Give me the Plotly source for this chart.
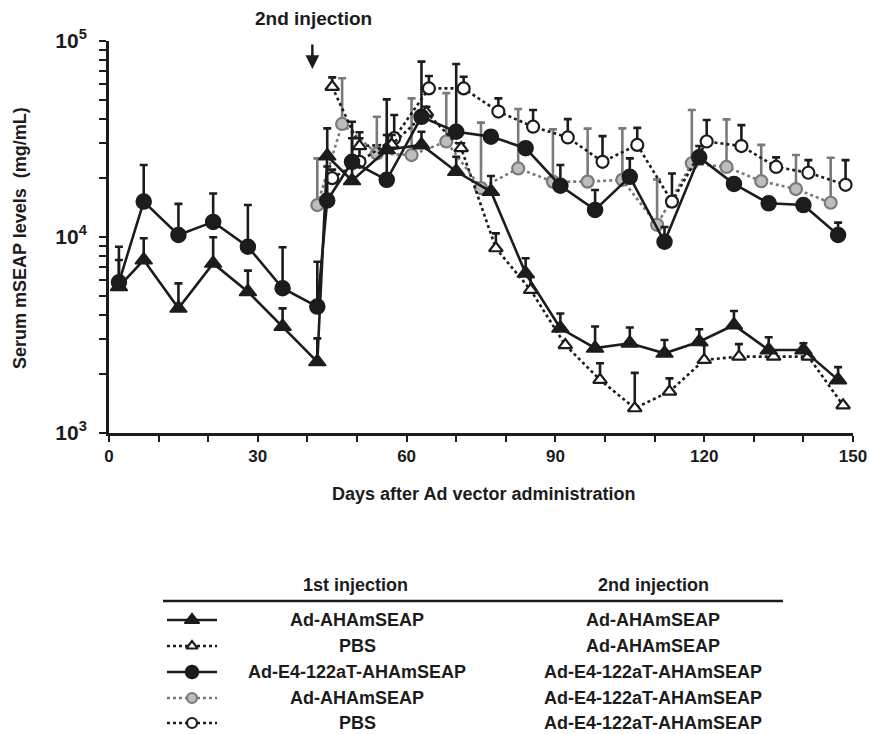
import plotly.graph_objects as go

# ---------------- data ----------------
A_days = [2, 7, 14, 21, 28, 35, 42, 44, 49, 56, 63, 70, 77, 84, 91, 98, 105, 112, 119, 126, 133, 140, 147]
A_vals = [5560, 7600, 4310, 7310, 5240, 3480, 2300, 25800, 19300, 27800, 29400, 21500, 17000, 6500, 3410, 2700,
          2860, 2540, 2910, 3540, 2640, 2640, 1860]
A_upper = [7600, 9820, 5780, 9930, 6710, 4310, 3030, 35700, 31800, 33000, 34300, 25600, 20400, 7760, 4060, 3480,
           3440, 2970, 3370, 4180, 3070, 2860, 2160]

B_days = [45, 50.5, 57, 64, 71, 78, 85, 92, 99, 106, 113, 120, 127, 134, 141, 148]
B_vals = [58200, 29000, 29500, 43000, 28300, 8730, 5350, 2800, 1860, 1333, 1622, 2350, 2445, 2445, 2445, 1380]
B_upper = [65000, 31800, 33000, 46000, 30000, 10400, 6210, 2800, 2260, 2020, 1893, 2800, 2830, 2445, 2445, 1380]

C_days = [2, 7, 14, 21, 28, 35, 42, 44, 49, 56, 63, 70, 77, 84, 91, 98, 105, 112, 119, 126, 133, 140, 147]
C_vals = [5850, 15100, 10200, 11900, 8890, 5460, 4400, 15300, 24100, 19500, 40900, 34300, 32400, 28300, 18200,
          13700, 20200, 9420, 25400, 18600, 14800, 14500, 10200]
C_upper = [8890, 23200, 14700, 16600, 14500, 8840, 7450, 22800, 38600, 50200, 78200, 76000, 32400, 28300, 23200,
           17300, 25100, 11200, 29000, 18600, 14800, 14500, 11800]

D_days = [42, 47, 54, 61, 68, 75, 82.5, 89.5, 96.5, 103.5, 110.5, 117.5, 124.5, 131.5, 138.5, 145.5]
D_vals = [14500, 37600, 26600, 26100, 30600, 17700, 22300, 19100, 19100, 19500, 11500, 23700, 22700, 19200,
          17500, 14900]
D_upper = [25100, 64300, 40900, 50800, 54000, 38200, 44800, 35300, 35600, 35700, 19600, 44300, 39700, 29400,
           26100, 25300]

E_days = [45, 50.5, 57.5, 64.5, 71.5, 78.5, 85.5, 92.5, 99.5, 106.5, 113.5, 120.5, 127.5, 134.5, 141, 148.5]
E_vals = [19900, 24100, 31800, 57100, 57100, 43500, 36400, 32100, 24100, 29400, 15100, 30600, 29000, 22700,
          21200, 18400]
E_upper = [22000, 34100, 41800, 66100, 65500, 50800, 44300, 39800, 32600, 35900, 21000, 39400, 37100, 25400,
           24600, 24600]

x_tick_vals = list(range(0, 151, 10))
x_tick_text = [str(v) if v % 30 == 0 else "" for v in x_tick_vals]
y_tick_vals = [m * 10 ** e for e in (3, 4) for m in range(1, 10)] + [100000]
y_tick_text = ["10<sup>%d</sup>" % (len(str(v)) - 1) if str(v).strip("0") == "1" else "" for v in y_tick_vals]

legend_first = ["Ad-AHAmSEAP", "PBS", "Ad-E4-122aT-AHAmSEAP", "Ad-AHAmSEAP", "PBS"]
legend_second = ["Ad-AHAmSEAP", "Ad-AHAmSEAP", "Ad-E4-122aT-AHAmSEAP", "Ad-E4-122aT-AHAmSEAP",
                 "Ad-E4-122aT-AHAmSEAP"]

# ---------------- layout geometry (pixels) ----------------
W, H = 870, 734
X0, X1 = 109, 853
YT, YB = 40.7, 432.7
BLACK = "#1c1c1c"
GREY_LINE = "#7a7a7a"
GREY_FILL = "#bdbdbd"
FONT = "Arial, Liberation Sans, sans-serif"

def px(x):
    return x / W

def py(y):
    return 1 - y / H

styles = [
    dict(symbol="triangle-up", size=15, color=BLACK, line=dict(color=BLACK, width=1.5), dash="solid",
         lcolor=BLACK, ecolor=BLACK),
    dict(symbol="triangle-up", size=12, color="white", line=dict(color=BLACK, width=2.2), dash="dot",
         lcolor=BLACK, ecolor=BLACK),
    dict(symbol="circle", size=15, color=BLACK, line=dict(color=BLACK, width=1.5), dash="solid",
         lcolor=BLACK, ecolor=BLACK),
    dict(symbol="circle", size=12, color=GREY_FILL, line=dict(color=GREY_LINE, width=2.2), dash="dot",
         lcolor=GREY_LINE, ecolor=GREY_LINE),
    dict(symbol="circle", size=12, color="white", line=dict(color=BLACK, width=2.2), dash="dot",
         lcolor=BLACK, ecolor=BLACK),
]

series = [
    (A_days, A_vals, A_upper, 0),
    (B_days, B_vals, B_upper, 1),
    (C_days, C_vals, C_upper, 2),
    (D_days, D_vals, D_upper, 3),
    (E_days, E_vals, E_upper, 4),
]
draw_order = [3, 4, 1, 0, 2]

fig = go.Figure()
for idx in draw_order:
    d, v, u, si = series[idx]
    st = styles[si]
    fig.add_trace(go.Scatter(
        x=d, y=v, mode="lines+markers",
        line=dict(color=st["lcolor"], width=2.6, dash=st["dash"]),
        marker=dict(symbol=st["symbol"], size=st["size"], color=st["color"], line=st["line"]),
        error_y=dict(type="data", symmetric=False,
                     array=[max(a - b, 0) for a, b in zip(u, v)],
                     arrayminus=[0] * len(v),
                     color=st["ecolor"], thickness=2.6, width=4),
        cliponaxis=False, showlegend=False, xaxis="x", yaxis="y",
    ))

# legend symbols on a pixel-coordinate overlay axis
row_y = [620, 646, 672, 698, 723]
for i, st in enumerate(styles):
    fig.add_trace(go.Scatter(
        x=[167, 217], y=[row_y[i], row_y[i]], mode="lines",
        line=dict(color=st["lcolor"], width=2.6, dash=st["dash"]),
        showlegend=False, xaxis="x2", yaxis="y2", hoverinfo="skip", cliponaxis=False,
    ))
    fig.add_trace(go.Scatter(
        x=[192], y=[row_y[i]], mode="markers",
        marker=dict(symbol=st["symbol"], size=st["size"] - 2, color=st["color"], line=st["line"]),
        showlegend=False, xaxis="x2", yaxis="y2", hoverinfo="skip", cliponaxis=False,
    ))

annotations = []
bold = dict(family=FONT, size=18, color=BLACK, weight="bold")
annotations.append(dict(text="1st injection", x=355, y=585, xref="x2", yref="y2", showarrow=False, font=bold))
annotations.append(dict(text="2nd injection", x=653, y=585, xref="x2", yref="y2", showarrow=False, font=bold))
for i in range(5):
    annotations.append(dict(text=legend_first[i], x=357, y=row_y[i], xref="x2", yref="y2",
                            showarrow=False, font=bold))
    annotations.append(dict(text=legend_second[i], x=653, y=row_y[i], xref="x2", yref="y2",
                            showarrow=False, font=bold))

annotations.append(dict(text="Days after Ad vector administration", x=px(484), y=py(494), xref="paper",
                        yref="paper", showarrow=False, font=bold, xanchor="center", yanchor="middle"))
annotations.append(dict(text="Serum mSEAP levels \u00a0(mg/mL)", x=px(20), y=py(238), xref="paper",
                        yref="paper", showarrow=False, textangle=-90, font=bold,
                        xanchor="center", yanchor="middle"))
annotations.append(dict(text="2nd injection", x=px(313), y=py(18), xref="paper", yref="paper",
                        showarrow=False, font=dict(family=FONT, size=19, color=BLACK, weight="bold"),
                        xanchor="center", yanchor="middle"))
annotations.append(dict(text="", x=41, y=py(69), xref="x", yref="paper", showarrow=True,
                        ax=0, ay=-26, arrowhead=2, arrowsize=1.1, arrowwidth=2.5, arrowcolor=BLACK))

shapes = [dict(type="line", xref="x2", yref="y2", x0=163, x1=783, y0=601, y1=601,
               line=dict(color=BLACK, width=2.5))]

fig.update_layout(
    width=W, height=H, margin=dict(l=0, r=0, t=0, b=0),
    paper_bgcolor="white", plot_bgcolor="rgba(0,0,0,0)",
    font=dict(family=FONT, color=BLACK),
    xaxis=dict(domain=[px(X0), px(X1)], range=[0, 150], tickvals=x_tick_vals, ticktext=x_tick_text,
               ticks="outside", ticklen=6, tickwidth=2, tickcolor=BLACK, showline=True, linewidth=3,
               linecolor=BLACK, showgrid=False, zeroline=False, automargin=False,
               tickfont=dict(family=FONT, size=17, color=BLACK, weight="bold"), anchor="y"),
    yaxis=dict(domain=[py(YB), py(YT)], type="log", range=[3, 5], tickvals=y_tick_vals, ticktext=y_tick_text,
               ticks="outside", ticklen=7, tickwidth=2, tickcolor=BLACK, showline=True, linewidth=3,
               linecolor=BLACK, showgrid=False, zeroline=False, automargin=False, ticklabelstandoff=8,
               tickfont=dict(family=FONT, size=21, color=BLACK, weight="bold"), anchor="x"),
    xaxis2=dict(domain=[0, 1], range=[0, W], visible=False, anchor="y2"),
    yaxis2=dict(domain=[0, 1], range=[H, 0], visible=False, anchor="x2"),
    annotations=annotations, shapes=shapes,
)

fig.write_html("out.html")
